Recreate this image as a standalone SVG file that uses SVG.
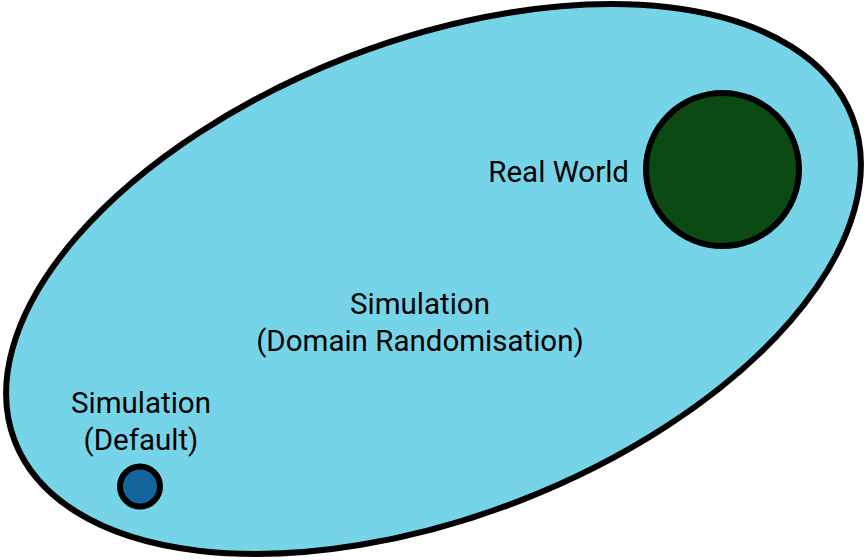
<svg xmlns="http://www.w3.org/2000/svg" width="867" height="560" viewBox="0 0 867 560">
  <style>
    .shape { stroke: #000000; stroke-width: 6; }
    .label { font-family: Roboto, "Liberation Sans", sans-serif; font-size: 29.5px; fill: #000000; }
    .mid { text-anchor: middle; }
    .end { text-anchor: end; }
  </style>
  <rect width="867" height="560" fill="#ffffff"/>
  <g id="domain-randomisation">
    <ellipse class="shape" cx="433.5" cy="279" rx="449" ry="238" transform="rotate(-21.2 433.5 279)" fill="#76d4e8"/>
    <text class="label mid" x="420" y="314">Simulation</text>
    <text class="label mid" x="420" y="351">(Domain Randomisation)</text>
  </g>
  <g id="real-world">
    <circle class="shape" cx="722.5" cy="169.5" r="76.5" fill="#0b4a12"/>
    <text class="label end" x="629" y="181.5">Real World</text>
  </g>
  <g id="simulation-default">
    <circle class="shape" cx="140" cy="486.5" r="20" fill="#14649c"/>
    <text class="label mid" x="141" y="413">Simulation</text>
    <text class="label mid" x="141" y="450">(Default)</text>
  </g>
  <g id="connectors"></g>
</svg>
